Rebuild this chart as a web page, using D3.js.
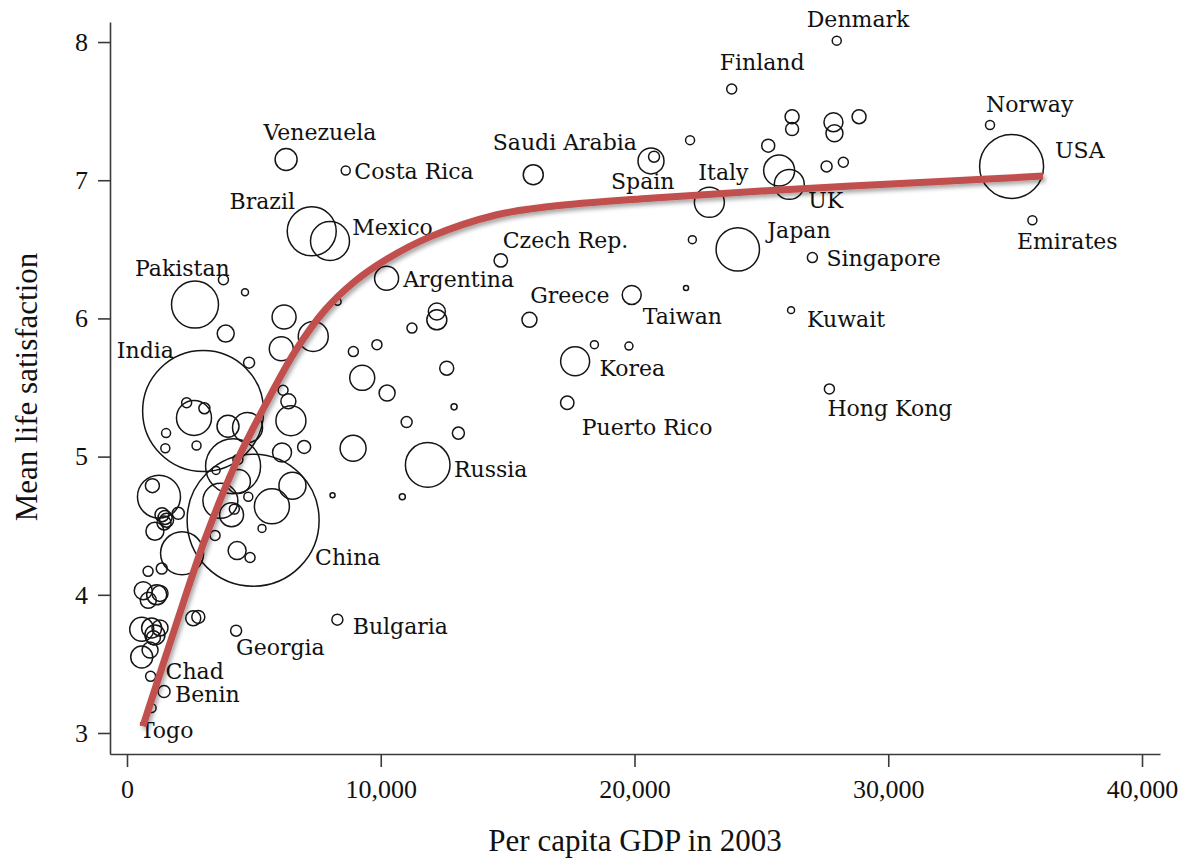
<!DOCTYPE html>
<html>
<head>
<meta charset="utf-8">
<script src="https://cdn.jsdelivr.net/npm/d3@7/dist/d3.min.js"></script>
<style>
  html, body { margin: 0; padding: 0; background: #fff; }
  svg { display: block; }
</style>
</head>
<body>
<svg id="chart" width="1188" height="859"></svg>
<script>
// ---------------- DATA ----------------
const names = [
  "Denmark","Finland","Norway","USA","Emirates","Kuwait","Singapore","Hong Kong","Japan","UK",
  "Italy","Spain","Saudi Arabia","Czech Rep.","Greece","Taiwan","Korea","Puerto Rico","Venezuela","Costa Rica",
  "Brazil","Mexico","Argentina","Pakistan","India","Russia","China","Bulgaria","Georgia","Chad",
  "Benin","Togo",
  "","","","","","","","","","",
  "","","","","","","","","","",
  "","","","","","","","","","",
  "","","","","","","","","","",
  "","","","","","","","","","",
  "","","","","","","","","","",
  "","","","","","","","","","",
  "","","","","","",""
];
const gdp = [
  27970,23830,34010,34860,35680,26170,27010,27680,24070,26100,
  22950,20650,16010,14730,15860,19890,17660,17350,6270,8620,
  7280,8000,10230,2680,3000,11850,4970,8290,4300,930,
  1460,970,
  20770,22190,25270,26210,26210,27840,27880,28850,27570,28230,
  25700,22280,22030,18420,19780,11230,12210,12210,8920,9850,
  9270,10250,12600,12890,11020,13060,8910,10850,8100,8300,
  3800,4650,6190,7340,3890,6080,4810,6150,6360,6460,
  2640,2350,3050,1540,1510,2740,3980,4750,6110,6980,
  4180,4390,3680,4120,4230,4780,3470,5320,4340,4850,
  5710,6520,1260,1000,1380,1500,1560,1460,2020,1100,
  2170,1370,830,640,1170,1300,840,2610,2810,580,
  970,1100,1300,1040,580,910,4370,3510
];
const lifeSat = [
  8.01,7.66,7.40,7.10,6.71,6.06,6.44,5.49,6.50,6.97,
  6.84,7.14,7.04,6.42,5.99,6.17,5.69,5.39,7.15,7.07,
  6.63,6.56,6.29,6.10,5.33,4.94,4.54,3.82,3.74,3.41,
  3.30,3.18,
  7.17,7.29,7.25,7.46,7.37,7.42,7.34,7.46,7.10,7.13,
  7.07,6.57,6.22,5.81,5.80,5.93,6.05,5.99,5.76,5.81,
  5.57,5.46,5.64,5.36,5.25,5.17,5.06,4.71,4.72,6.12,
  6.28,6.19,6.01,5.87,5.89,5.78,5.68,5.48,5.40,5.26,
  5.28,5.39,5.35,5.17,5.06,5.08,5.22,5.21,5.03,5.07,
  4.93,4.82,4.68,4.58,4.62,4.71,4.43,4.48,4.32,4.27,
  4.64,4.79,4.71,4.79,4.58,4.56,4.54,4.52,4.59,4.46,
  4.30,4.19,4.17,4.03,4.00,4.01,3.96,3.83,3.84,3.75,
  3.76,3.71,3.76,3.69,3.55,3.60,4.98,4.90
];
const population = [ // millions
  6.0,7.4,6.0,303.2,6.0,3.6,7.4,7.4,139.4,66.6,
  66.6,50.0,29.6,13.3,16.7,26.7,62.3,13.3,35.8,6.0,
  177.7,112.6,42.6,163.5,1083.8,147.2,1289.8,9.0,9.0,7.4,
  10.7,6.0,
  9.0,6.0,12.5,14.5,12.5,26.7,21.4,14.5,9.0,7.4,
  71.1,4.7,1.9,4.7,4.7,7.4,21.4,29.6,7.4,7.4,
  46.3,19.0,14.5,2.7,9.0,10.7,50.0,2.7,1.9,3.6,
  7.4,3.6,42.6,66.6,21.4,42.6,9.0,7.4,16.7,66.6,
  90.7,7.4,9.0,6.0,6.0,6.0,35.8,66.6,26.7,12.5,
  223.9,42.6,90.7,42.6,7.4,6.0,7.4,4.7,24.0,7.4,
  90.7,54.0,136.9,14.5,14.5,14.5,14.5,14.5,10.7,24.0,
  136.9,9.0,7.4,24.0,29.6,19.0,19.0,16.7,12.5,42.6,
  29.6,29.6,19.0,14.5,35.8,19.0,7.4,4.7
];

// fitted curve
const curveGdp = [630,1890,3070,4260,5440,6620,7800,8990,10250,11940,14580,16670,20610,25730,32040,36100];
const curveLs  = [3.05,3.76,4.40,4.94,5.37,5.76,6.06,6.27,6.43,6.59,6.75,6.81,6.87,6.93,6.99,7.03];

const xTicks = [0,10000,20000,30000,40000];
const yTicks = [3,4,5,6,7,8];
const xTitle = "Per capita GDP in 2003";
const yTitle = "Mean life satisfaction";

// ---------------- LAYOUT ----------------
// label offsets (px) from the circle centre to the text anchor/baseline
const labelLayout = {
  "Denmark":[-30,-14], "Finland":[-12,-19], "Norway":[-4,-12.5], "USA":[43.5,-8],
  "Emirates":[-15.5,28.5], "Kuwait":[16,17], "Singapore":[14,8], "Hong Kong":[-2,27],
  "Japan":[29.5,-11.5], "UK":[19,24], "Italy":[-11,-22], "Spain":[-40,28.5],
  "Saudi Arabia":[-40.5,-25], "Czech Rep.":[2,-12.5], "Greece":[0.7,-16.7], "Taiwan":[11,29],
  "Korea":[24.3,15], "Puerto Rico":[14.4,32.3], "Venezuela":[-22.7,-20], "Costa Rica":[8.6,8.3],
  "Brazil":[-16.7,-22.7,"end"], "Mexico":[22.3,-6], "Argentina":[16.6,9], "Pakistan":[-60,-28.3],
  "India":[-86.3,-52.7], "Russia":[26.3,11.7], "China":[62,45], "Bulgaria":[15.4,14],
  "Georgia":[0,24.3], "Chad":[15,2.5], "Benin":[11,10.5], "Togo":[-11.7,30]
};

const svg = d3.select("#chart");
const x = d3.scaleLinear().domain([-670, 40709]).range([110, 1160]);
const y = d3.scaleLinear().domain([2.848, 8.145]).range([754, 22]);
const r = d3.scaleSqrt().domain([0, 1290]).range([0, 66]);

const serif = "'Liberation Serif', 'Times New Roman', serif";
const labelFont = "'DejaVu Serif', serif";
const axisColor = "#3a3a3a";

// shadow filter for the curve
const defs = svg.append("defs");
const f = defs.append("filter").attr("id","shadow").attr("x","-10%").attr("y","-10%").attr("width","120%").attr("height","130%");
f.append("feDropShadow").attr("dx",2).attr("dy",3).attr("stdDeviation",2)
  .attr("flood-color","#000").attr("flood-opacity",0.35);

// axes
const yAxis = d3.axisLeft(y).tickValues(yTicks).tickFormat(d3.format("d")).tickSize(12).tickSizeOuter(0).tickPadding(10);
const gy = svg.append("g").attr("transform","translate(110,0)").call(yAxis);
const xAxis = d3.axisBottom(x).tickValues(xTicks).tickFormat(d3.format(",")).tickSize(13).tickSizeOuter(0).tickPadding(13);
const gx = svg.append("g").attr("transform","translate(0,754)").call(xAxis);
[gx, gy].forEach(g => {
  g.select(".domain").attr("stroke", axisColor).attr("stroke-width", 1.6);
  g.selectAll(".tick line").attr("stroke", axisColor).attr("stroke-width", 1.6);
  g.selectAll(".tick text").attr("fill","#111").style("font-family", serif).style("font-size","26px");
});

// axis titles
svg.append("text").attr("x", 635).attr("y", 851).attr("text-anchor","middle")
  .style("font-family", serif).style("font-size","31px").attr("fill","#111").text(xTitle);
svg.append("text").attr("transform","translate(37,387) rotate(-90)").attr("text-anchor","middle")
  .style("font-family", serif).style("font-size","31px").attr("fill","#111").text(yTitle);

// bubbles
const data = gdp.map((g,i) => ({name:names[i], gdp:g, ls:lifeSat[i], pop:population[i]}));
svg.append("g").selectAll("circle").data(data).join("circle")
  .attr("cx", d => x(d.gdp)).attr("cy", d => y(d.ls)).attr("r", d => r(d.pop))
  .attr("fill","none").attr("stroke","#151515").attr("stroke-width",1.5);

// labels
svg.append("g").selectAll("text").data(data.filter(d => d.name)).join("text")
  .attr("x", d => x(d.gdp) + labelLayout[d.name][0])
  .attr("y", d => y(d.ls) + labelLayout[d.name][1])
  .attr("text-anchor", d => labelLayout[d.name][2] || "start")
  .style("font-family", labelFont).style("font-size","22px").attr("fill","#111")
  .text(d => d.name);

// curve
const curveData = curveGdp.map((g,i) => [g, curveLs[i]]);
svg.append("path").datum(curveData)
  .attr("d", d3.line().x(d => x(d[0])).y(d => y(d[1])).curve(d3.curveCatmullRom.alpha(0.5)))
  .attr("fill","none").attr("stroke","#c0504d").attr("stroke-width",7)
  .attr("stroke-linecap","butt").attr("filter","url(#shadow)");
</script>
</body>
</html>
